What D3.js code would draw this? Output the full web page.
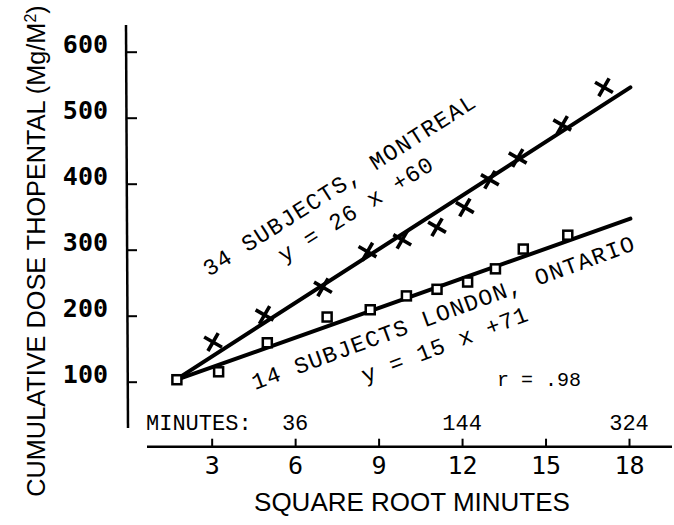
<!DOCTYPE html>
<html>
<head>
<meta charset="utf-8">
<script src="https://cdn.jsdelivr.net/npm/d3@7"></script>
<style>
  body { margin: 0; background: #fff; }
</style>
</head>
<body>
<div id="chart"></div>
<script>
// 34 subjects, Montreal (x markers): square root minutes / cumulative dose
const montrealX = [3.05, 4.9, 7.0, 8.6, 9.85, 11.1, 12.1, 13.0, 14.0, 15.6, 17.1]
const montrealY = [160, 201, 243, 297, 315, 334, 364, 406, 439, 489, 546]
// 14 subjects, London Ontario (square markers)
const londonX = [1.75, 3.25, 5.0, 7.15, 8.7, 10.0, 11.1, 12.2, 13.2, 14.2, 15.8]
const londonY = [103, 115, 159, 198, 209, 230, 240, 251, 271, 301, 322]
// regression lines, start and end as drawn
const montrealFitX = [1.75, 18.05]
const montrealFitY = [104, 546]
const londonFitX = [1.75, 18.05]
const londonFitY = [103, 347]

const yTicks = [100, 200, 300, 400, 500, 600]
const xTicks = [3, 6, 9, 12, 15, 18]
const minuteTicks = [6, 12, 18]
const minuteLabels = ["36", "144", "324"]

const width = 674
const height = 525
const mono = "'Courier New', 'Liberation Mono', monospace"
const sans = "'Liberation Sans', Arial, sans-serif"
const block = "'DejaVu Sans Mono', monospace"

const svg = d3.select("#chart").append("svg")
  .attr("width", width)
  .attr("height", height)
  .style("display", "block")

const x = d3.scaleLinear().domain([0, 18]).range([128.2, 629])
const y = d3.scaleLinear().domain([0, 600]).range([447.7, 51.7])

// y axis, ticks point inward
const yAxis = svg.append("g")
  .attr("transform", "translate(127,0)")
  .call(d3.axisLeft(y).tickValues(yTicks).tickSize(-10).tickPadding(19))
yAxis.select(".domain").remove()
yAxis.selectAll(".tick line").attr("stroke", "#000").attr("stroke-width", 2)
yAxis.selectAll(".tick text")
  .attr("dy", "0.05em")
  .attr("font-family", block)
  .attr("font-weight", "bold")
  .attr("font-size", 25)
  .attr("fill", "#000")
svg.append("line")
  .attr("x1", 126).attr("y1", 25).attr("x2", 128).attr("y2", 428)
  .attr("stroke", "#000").attr("stroke-width", 2.5)

// x axis, ticks point up
const xAxis = svg.append("g")
  .attr("transform", `translate(0,${y(0) - 1})`)
  .call(d3.axisBottom(x).tickValues(xTicks).tickSize(-8).tickPadding(10))
xAxis.select(".domain").remove()
xAxis.selectAll(".tick line").attr("stroke", "#000").attr("stroke-width", 2)
xAxis.selectAll(".tick text")
  .attr("font-family", block)
  .attr("font-size", 25)
  .attr("fill", "#000")
svg.append("line")
  .attr("x1", 147).attr("y1", y(0) - 1).attr("x2", 672).attr("y2", y(0) - 1)
  .attr("stroke", "#000").attr("stroke-width", 2.5)

// minutes row
svg.append("text")
  .attr("x", 146).attr("y", 430)
  .attr("font-family", mono).attr("font-size", 22)
  .text("MINUTES:")
svg.append("g").selectAll("text")
  .data(minuteTicks)
  .join("text")
  .attr("x", d => x(d))
  .attr("y", 430)
  .attr("text-anchor", "middle")
  .attr("font-family", mono).attr("font-size", 22)
  .text((d, i) => minuteLabels[i])

// axis titles
svg.append("text")
  .attr("transform", "translate(45,251) rotate(-90)")
  .attr("text-anchor", "middle")
  .attr("font-family", sans).attr("font-size", 25.3)
  .html("CUMULATIVE DOSE THOPENTAL (Mg/M<tspan dy='-9' font-size='16'>2</tspan><tspan dy='9'>)</tspan>")
svg.append("text")
  .attr("x", 412).attr("y", 511)
  .attr("text-anchor", "middle")
  .attr("font-family", sans).attr("font-size", 26)
  .text("SQUARE ROOT MINUTES")

// regression lines
const line = d3.line().x(d => x(d[0])).y(d => y(d[1]))
svg.append("path")
  .attr("d", line(d3.zip(montrealFitX, montrealFitY)))
  .attr("fill", "none").attr("stroke", "#000").attr("stroke-width", 4).attr("stroke-linecap", "round")
svg.append("path")
  .attr("d", line(d3.zip(londonFitX, londonFitY)))
  .attr("fill", "none").attr("stroke", "#000").attr("stroke-width", 4).attr("stroke-linecap", "round")

// markers
svg.append("g").selectAll("path")
  .data(d3.zip(montrealX, montrealY))
  .join("path")
  .attr("transform", d => `translate(${x(d[0])},${y(d[1])}) rotate(30)`)
  .attr("d", d3.symbol(d3.symbolPlus, 140))
  .attr("fill", "none").attr("stroke", "#000").attr("stroke-width", 3.6)
svg.append("g").selectAll("rect")
  .data(d3.zip(londonX, londonY))
  .join("rect")
  .attr("x", d => x(d[0]) - 4.5)
  .attr("y", d => y(d[1]) - 4.5)
  .attr("width", 9).attr("height", 9)
  .attr("fill", "#fff").attr("stroke", "#000").attr("stroke-width", 2.5)

// annotations along the lines
const notes = [
  { text: "34 SUBJECTS, MONTREAL", x: 209, y: 277, angle: -32.5, len: 318 },
  { text: "y = 26 x +60", x: 284, y: 263, angle: -32, len: 178 },
  { text: "14 SUBJECTS LONDON, ONTARIO", x: 255, y: 390, angle: -20.2, len: 406 },
  { text: "y = 15 x +71", x: 365, y: 383, angle: -20.9, len: 176 }
]
svg.append("g").selectAll("text")
  .data(notes)
  .join("text")
  .attr("transform", d => `translate(${d.x},${d.y}) rotate(${d.angle})`)
  .attr("textLength", d => d.len)
  .attr("lengthAdjust", "spacing")
  .attr("font-family", mono).attr("font-size", 23)
  .text(d => d.text)

svg.append("text")
  .attr("x", 497).attr("y", 386)
  .attr("font-family", mono).attr("font-size", 20)
  .text("r = .98")
</script>
</body>
</html>
